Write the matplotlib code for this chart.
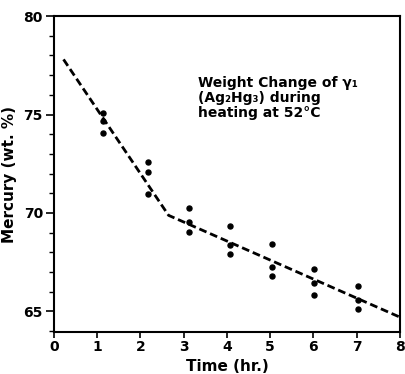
import matplotlib.pyplot as plt
from matplotlib.ticker import MultipleLocator

# measured weight of mercury (wt. %) vs heating time (hr.)
time_hr = [1.14, 1.14, 1.14,
           2.17, 2.17, 2.17,
           3.12, 3.12, 3.12,
           4.07, 4.07, 4.07,
           5.05, 5.05, 5.05,
           6.02, 6.02, 6.02,
           7.04, 7.04, 7.04]
mercury = [75.08, 74.67, 74.06,
           72.60, 72.08, 70.95,
           70.25, 69.55, 69.02,
           69.32, 68.36, 67.90,
           68.40, 67.24, 66.78,
           67.14, 66.42, 65.81,
           66.27, 65.56, 65.10]

# dashed trend line (two linear segments)
fit_time = [0.22, 2.65, 8.0]
fit_mercury = [77.8, 69.88, 64.71]

x_ticks = [0, 1, 2, 3, 4, 5, 6, 7, 8]
y_ticks = [65, 70, 75, 80]

plt.rcParams['font.family'] = ['DejaVu Sans']
fig = plt.figure(figsize=(4.06, 3.74), dpi=100)
ax = fig.add_axes([0.133, 0.112, 0.852, 0.845])

ax.plot(fit_time, fit_mercury, color='black', linewidth=2.0,
        linestyle=(0, (2.8, 1.4)), dash_capstyle='butt')
ax.plot(time_hr, mercury, 'o', color='black', markersize=3.6)

ax.text(3.33, 76.95, "Weight Change of γ₁\n(Ag₂Hg₃) during\nheating at 52°C",
        fontsize=10, fontweight='bold', va='top', ha='left', linespacing=1.1)

ax.set_xlim(0, 8)
ax.set_ylim(63.95, 80)
ax.set_xticks(x_ticks)
ax.set_yticks(y_ticks)
ax.yaxis.set_minor_locator(MultipleLocator(1))

ax.tick_params(axis='both', which='major', direction='out', width=1.2,
               labelsize=10, pad=2)
ax.tick_params(axis='x', which='major', length=4)
ax.tick_params(axis='y', which='major', length=6)
ax.tick_params(axis='y', which='minor', direction='out', length=3.5, width=1.0)
for lbl in ax.get_xticklabels() + ax.get_yticklabels():
    lbl.set_fontweight('bold')

for side in ['left', 'right', 'top', 'bottom']:
    ax.spines[side].set_linewidth(1.5)

ax.set_xlabel("Time (hr.)", fontsize=11, fontweight='bold', labelpad=3)
ax.set_ylabel("Mercury (wt. %)", fontsize=11, fontweight='bold', labelpad=5)

fig.savefig("out.png", dpi=100)
